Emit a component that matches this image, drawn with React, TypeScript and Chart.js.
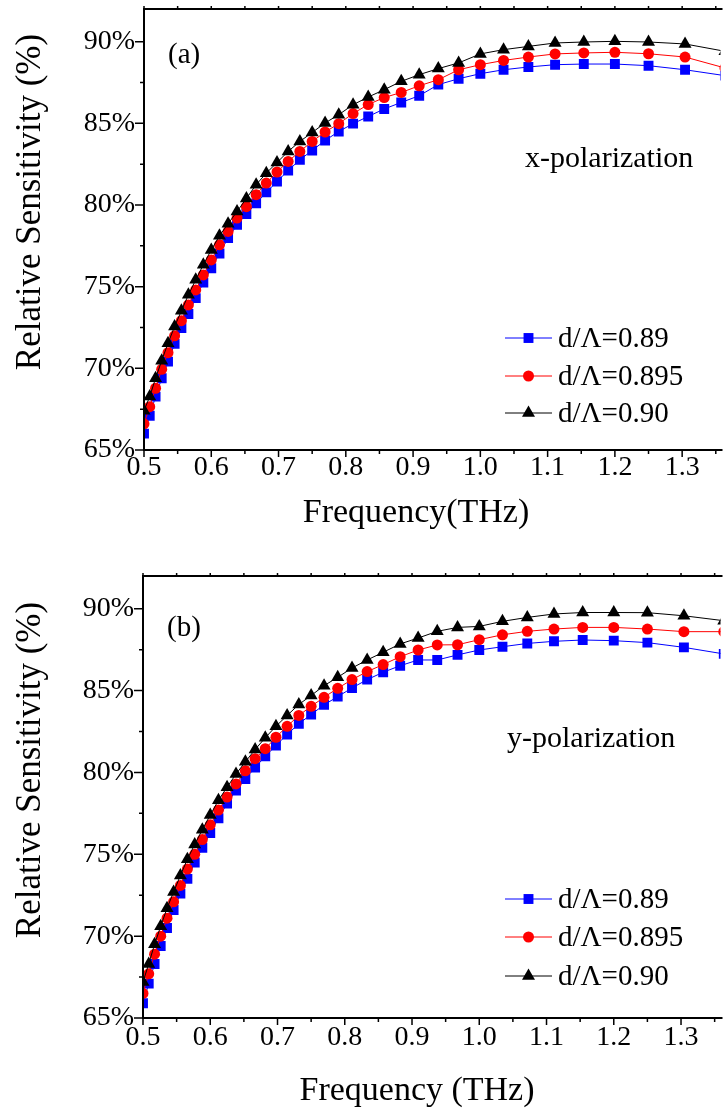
import React, { useEffect, useRef } from 'react';
import { Chart, registerables } from 'chart.js';

Chart.register(...registerables);

// Frequencies (THz) of the sample points
const FREQ = [0.5, 0.5085, 0.5172, 0.5263, 0.5357, 0.5455, 0.5556, 0.566, 0.5769, 0.5882, 0.6, 0.6122, 0.625, 0.6383, 0.6522, 0.6667, 0.6818, 0.6977, 0.7143, 0.7317, 0.75, 0.7692, 0.7895, 0.8108, 0.8333, 0.8571, 0.8824, 0.9091, 0.9375, 0.9677, 1.0, 1.0345, 1.0714, 1.1111, 1.1538, 1.2, 1.25, 1.3043, 1.3636, 1.4286];

// (a) x-polarization
const A_089 = [66.0, 67.1, 68.27, 69.39, 70.41, 71.5, 72.46, 73.33, 74.3, 75.25, 76.13, 77.03, 77.97, 78.79, 79.45, 80.1, 80.77, 81.44, 82.11, 82.77, 83.34, 83.95, 84.5, 84.98, 85.42, 85.88, 86.28, 86.69, 87.37, 87.73, 88.04, 88.28, 88.45, 88.59, 88.63, 88.63, 88.53, 88.28, 87.92, 87.4];
const A_0895 = [66.6, 67.65, 68.78, 69.94, 70.96, 71.99, 72.92, 73.88, 74.8, 75.72, 76.64, 77.56, 78.38, 79.2, 79.9, 80.63, 81.34, 82.02, 82.67, 83.28, 83.89, 84.47, 84.98, 85.6, 86.15, 86.58, 86.89, 87.3, 87.67, 88.28, 88.59, 88.85, 89.06, 89.25, 89.31, 89.35, 89.26, 89.06, 88.39, 87.6];
const A_090 = [67.4, 68.27, 69.39, 70.47, 71.54, 72.56, 73.52, 74.5, 75.42, 76.34, 77.25, 78.11, 78.85, 79.6, 80.4, 81.24, 81.95, 82.6, 83.28, 83.89, 84.44, 85.02, 85.53, 86.14, 86.61, 87.06, 87.57, 87.98, 88.35, 88.7, 89.25, 89.51, 89.71, 89.92, 89.98, 90.02, 89.98, 89.86, 89.41, 88.7];

// (b) y-polarization
const B_089 = [65.9, 67.1, 68.3, 69.4, 70.5, 71.6, 72.6, 73.5, 74.5, 75.4, 76.3, 77.2, 78.1, 78.9, 79.6, 80.3, 80.98, 81.65, 82.32, 82.97, 83.54, 84.13, 84.63, 85.16, 85.67, 86.12, 86.52, 86.87, 86.87, 87.18, 87.48, 87.68, 87.88, 88.01, 88.09, 88.05, 87.93, 87.64, 87.24, 86.8];
const B_0895 = [66.5, 67.7, 68.9, 70.0, 71.1, 72.1, 73.1, 74.1, 75.0, 75.9, 76.8, 77.7, 78.5, 79.3, 80.1, 80.84, 81.45, 82.15, 82.82, 83.48, 84.04, 84.59, 85.14, 85.67, 86.16, 86.59, 87.07, 87.48, 87.79, 87.8, 88.11, 88.41, 88.62, 88.76, 88.86, 88.86, 88.76, 88.6, 88.6, 88.6];
const B_090 = [67.2, 68.3, 69.5, 70.6, 71.7, 72.7, 73.7, 74.7, 75.6, 76.5, 77.4, 78.3, 79.1, 79.9, 80.65, 81.4, 82.12, 82.82, 83.48, 84.15, 84.7, 85.3, 85.81, 86.38, 86.87, 87.34, 87.85, 88.21, 88.62, 88.86, 88.92, 89.23, 89.47, 89.68, 89.77, 89.77, 89.76, 89.57, 89.27, 88.9];

const SERIES_LABELS = ['d/\u039B=0.89', 'd/\u039B=0.895', 'd/\u039B=0.90'];
const SERIES_COLORS = ['#0000ff', '#ff0000', '#000000'];
const SERIES_STYLES = ['rect', 'circle', 'triangle'];
const SERIES_RADII = [7, 5.5, 7.5];

const X_MIN = 0.5;
const Y_MIN = 65;
const Y_MAX = 92;
const X_STEP = 0.05;
const Y_STEP = 2.5;
const X_LABEL_STEP = 0.1;
const Y_LABEL_STEP = 5;

const FONT = "'Liberation Serif', 'Times New Roman', Times, serif";

function isMultiple(v: number, step: number) {
  const r = v / step;
  return Math.abs(r - Math.round(r)) < 1e-6;
}

function drawMarker(ctx: CanvasRenderingContext2D, style: string, x: number, y: number, r: number, color: string) {
  ctx.fillStyle = color;
  ctx.beginPath();
  if (style === 'rect') {
    const s = r * Math.SQRT1_2;
    ctx.rect(x - s, y - s, 2 * s, 2 * s);
  } else if (style === 'circle') {
    ctx.arc(x, y, r, 0, Math.PI * 2);
  } else {
    const h = r * Math.sin(Math.PI / 3);
    ctx.moveTo(x, y - r);
    ctx.lineTo(x - h, y + r / 2);
    ctx.lineTo(x + h, y + r / 2);
    ctx.closePath();
  }
  ctx.fill();
}

type PanelCfg = {
  height: number;
  padTop: number;
  axisW: number;
  xAxisH: number;
  xMax: number;
  data: number[][];
  tag: string;
  tagPos: [number, number];
  pol: string;
  polPos: [number, number];
  legendX: [number, number, number];
  legendY: number[];
  xTitle: string;
  xTitlePos: [number, number];
  yTitle: string;
  yTitlePos: [number, number];
  xLabelPad: number;
};

function Panel({ cfg }: { cfg: PanelCfg }) {
  const ref = useRef<HTMLCanvasElement | null>(null);
  useEffect(() => {
    if (!ref.current) return;
    const decor = {
      id: 'decor',
      afterDraw(chart: any) {
        const { ctx, chartArea: ca, scales } = chart;
        const xs = scales.x;
        const ys = scales.y;
        ctx.save();
        ctx.strokeStyle = '#000';
        ctx.lineWidth = 1.5;
        ctx.beginPath();
        xs.ticks.forEach((t: any) => {
          const px = xs.getPixelForValue(t.value);
          const major = isMultiple(t.value, X_LABEL_STEP);
          ctx.moveTo(px, ca.bottom);
          ctx.lineTo(px, ca.bottom + (major ? 7 : 4));
          ctx.moveTo(px, ca.top);
          ctx.lineTo(px, ca.top - 3);
        });
        ys.ticks.forEach((t: any) => {
          const py = ys.getPixelForValue(t.value);
          const major = isMultiple(t.value, Y_LABEL_STEP);
          ctx.moveTo(ca.left, py);
          ctx.lineTo(ca.left - (major ? 9 : 4), py);
        });
        ctx.stroke();
        ctx.lineWidth = 2;
        ctx.beginPath();
        ctx.moveTo(ca.right + 2, ca.top);
        ctx.lineTo(ca.left, ca.top);
        ctx.lineTo(ca.left, ca.bottom);
        ctx.lineTo(ca.right + 2, ca.bottom);
        ctx.stroke();

        // legend
        ctx.font = `29px ${FONT}`;
        ctx.textAlign = 'left';
        ctx.textBaseline = 'alphabetic';
        SERIES_LABELS.forEach((lab, i) => {
          const y = ca.top + cfg.legendY[i];
          const x0 = ca.left + cfg.legendX[0];
          const x1 = ca.left + cfg.legendX[1];
          ctx.strokeStyle = SERIES_COLORS[i];
          ctx.lineWidth = 1;
          ctx.beginPath();
          ctx.moveTo(x0, y);
          ctx.lineTo(x1, y);
          ctx.stroke();
          drawMarker(ctx, SERIES_STYLES[i], (x0 + x1) / 2, y, SERIES_RADII[i], SERIES_COLORS[i]);
          ctx.fillStyle = '#000';
          ctx.fillText(lab, ca.left + cfg.legendX[2], y + 9);
        });

        // annotations
        ctx.fillStyle = '#000';
        ctx.font = `29px ${FONT}`;
        ctx.fillText(cfg.tag, ca.left + cfg.tagPos[0], ca.top + cfg.tagPos[1]);
        ctx.font = `30px ${FONT}`;
        ctx.fillText(cfg.pol, ca.left + cfg.polPos[0], ca.top + cfg.polPos[1]);

        // axis titles
        ctx.font = `34px ${FONT}`;
        ctx.textAlign = 'center';
        ctx.fillText(cfg.xTitle, ca.left + cfg.xTitlePos[0], ca.bottom + cfg.xTitlePos[1]);
        ctx.save();
        ctx.translate(cfg.yTitlePos[0], ca.top + cfg.yTitlePos[1]);
        ctx.rotate(-Math.PI / 2);
        ctx.font = `35px ${FONT}`;
        ctx.textBaseline = 'middle';
        ctx.fillText(cfg.yTitle, 0, 0);
        ctx.restore();
        ctx.restore();
      },
    };

    const order = [2, 1, 0];
    const chart = new Chart(ref.current, {
      type: 'line',
      data: {
        datasets: order.map((i) => ({
          label: SERIES_LABELS[i],
          data: FREQ.map((f, k) => ({ x: f, y: cfg.data[i][k] })),
          borderColor: SERIES_COLORS[i],
          backgroundColor: SERIES_COLORS[i],
          pointBackgroundColor: SERIES_COLORS[i],
          pointBorderColor: SERIES_COLORS[i],
          pointBorderWidth: 0,
          borderWidth: 1,
          pointStyle: SERIES_STYLES[i] as any,
          pointRadius: SERIES_RADII[i],
          tension: 0,
          clip: 0,
        })),
      },
      options: {
        animation: false,
        responsive: false,
        devicePixelRatio: 1,
        layout: { padding: { top: cfg.padTop, left: 0, right: 0, bottom: 0 } },
        plugins: { legend: { display: false }, tooltip: { enabled: false } },
        scales: {
          x: {
            type: 'linear',
            min: X_MIN,
            max: cfg.xMax,
            grid: { display: false, drawTicks: false },
            border: { display: false },
            ticks: {
              stepSize: X_STEP,
              includeBounds: false,
              autoSkip: false,
              maxRotation: 0,
              padding: cfg.xLabelPad,
              color: '#000',
              font: { family: FONT, size: 28 },
              callback: (v: any) => (isMultiple(Number(v), X_LABEL_STEP) ? Number(v).toFixed(1) : ''),
            },
            afterFit: (s: any) => {
              s.height = cfg.xAxisH;
              s.paddingLeft = 0;
              s.paddingRight = 0;
            },
          },
          y: {
            type: 'linear',
            min: Y_MIN,
            max: Y_MAX,
            grid: { display: false, drawTicks: false },
            border: { display: false },
            ticks: {
              stepSize: Y_STEP,
              includeBounds: false,
              autoSkip: false,
              padding: 9,
              color: '#000',
              font: { family: FONT, size: 28 },
              callback: (v: any) => (isMultiple(Number(v), Y_LABEL_STEP) ? `${Math.round(Number(v))}%` : ''),
            },
            afterFit: (s: any) => {
              s.width = cfg.axisW;
              s.paddingTop = 0;
              s.paddingBottom = 0;
            },
          },
        },
      },
      plugins: [decor],
    } as any);
    return () => chart.destroy();
  }, []);
  return <canvas ref={ref} width={728} height={cfg.height} style={{ display: 'block' }} />;
}

const PANEL_A: PanelCfg = {
  height: 556,
  padTop: 9,
  axisW: 144,
  xAxisH: 106,
  xMax: 1.357,
  data: [A_089, A_0895, A_090],
  tag: '(a)',
  tagPos: [24, 54],
  pol: 'x-polarization',
  polPos: [381, 158],
  legendX: [361, 408, 414],
  legendY: [329, 367, 404],
  xTitle: 'Frequency(THz)',
  xTitlePos: [272, 72],
  yTitle: 'Relative Sensitivity (%)',
  yTitlePos: [31, 193],
  xLabelPad: 1,
};

const PANEL_B: PanelCfg = {
  height: 557,
  padTop: 20,
  axisW: 143,
  xAxisH: 95,
  xMax: 1.3587,
  data: [B_089, B_0895, B_090],
  tag: '(b)',
  tagPos: [24, 60],
  pol: 'y-polarization',
  polPos: [364, 171],
  legendX: [362, 409, 415],
  legendY: [323, 361, 400],
  xTitle: 'Frequency (THz)',
  xTitlePos: [274, 82],
  yTitle: 'Relative Sensitivity (%)',
  yTitlePos: [31, 194],
  xLabelPad: 3,
};

export default function App() {
  return (
    <div style={{ position: 'absolute', left: 0, top: 0, width: 728, height: 1113, overflow: 'hidden', background: '#fff' }}>
      <Panel cfg={PANEL_A} />
      <Panel cfg={PANEL_B} />
    </div>
  );
}
